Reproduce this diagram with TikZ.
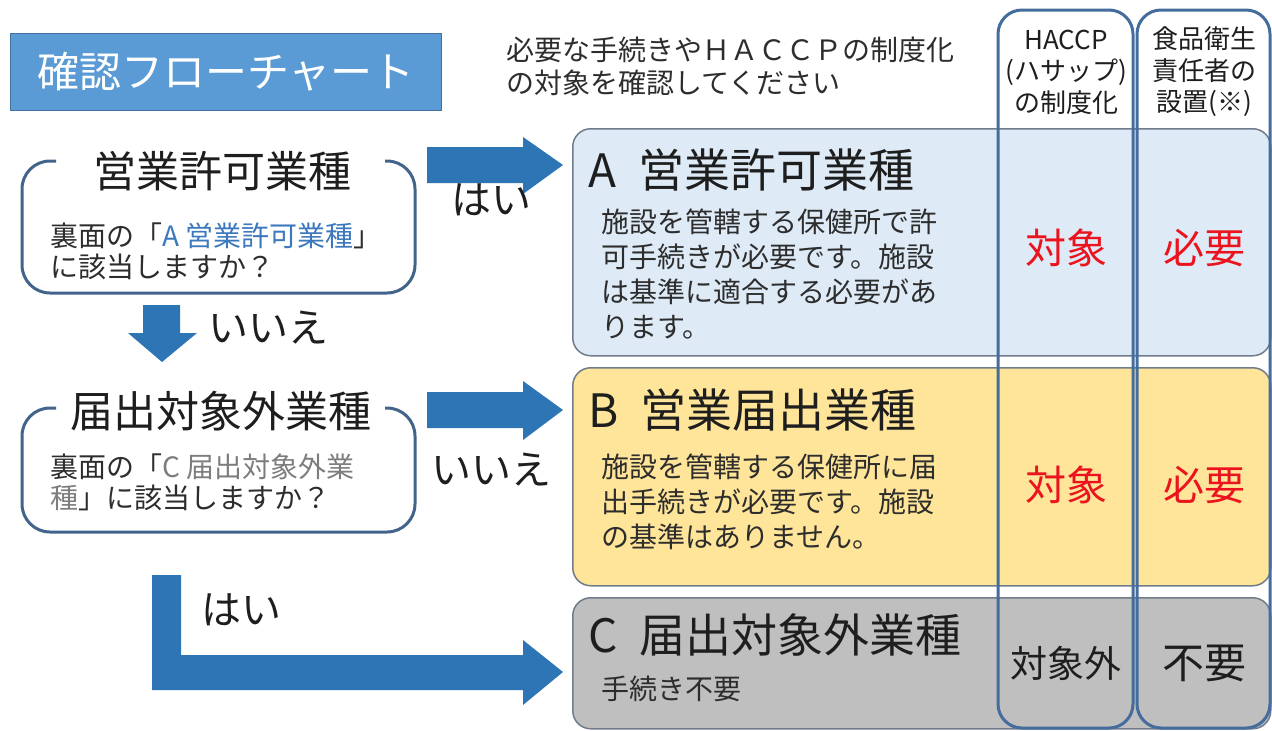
\documentclass[tikz,border=0pt]{standalone}
\usepackage{fontspec}
\setmainfont{Noto Sans CJK JP}
\definecolor{arrowblue}{RGB}{46,117,182}
\definecolor{titleblue}{RGB}{91,155,213}
\definecolor{titleedge}{RGB}{65,113,156}
\definecolor{qedge}{RGB}{66,100,138}
\definecolor{coledge}{RGB}{68,108,156}
\definecolor{rowedge}{RGB}{112,124,140}
\definecolor{rowA}{RGB}{222,235,247}
\definecolor{rowB}{RGB}{255,229,153}
\definecolor{rowC}{RGB}{191,191,191}
\definecolor{txt}{RGB}{30,30,30}
\definecolor{bodytxt}{RGB}{45,45,45}
\definecolor{hlblue}{RGB}{60,120,188}
\definecolor{hlgrey}{RGB}{125,125,125}
\definecolor{needred}{RGB}{235,20,30}
\tikzset{
  qframe/.style={draw=qedge, line width=3pt, rounded corners=28pt},
  rowbox/.style={draw=rowedge, line width=1.5pt, rounded corners=18pt, anchor=north west, inner sep=0pt},
  colbox/.style={draw=coledge, line width=3pt, rounded corners=24pt},
  blockarrow/.style={fill=arrowblue},
  heading/.style={inner sep=0pt, text=txt, font=\fontsize{43}{48}\selectfont},
  rowhead/.style={inner sep=0pt, anchor=west, text=txt, font=\fontsize{46}{50}\selectfont},
  body/.style={inner sep=0pt, anchor=north west, align=left, text=bodytxt, font=\fontsize{28}{35}\selectfont},
  qbody/.style={inner sep=0pt, anchor=north west, align=left, text=bodytxt, font=\fontsize{28}{30.5}\selectfont},
  answer/.style={inner sep=0pt, text=txt, font=\fontsize{40}{44}\selectfont},
  hdr/.style={inner sep=0pt, align=center, text=txt, font=\fontsize{26}{31.5}\selectfont},
  val/.style={inner sep=0pt, font=\fontsize{41}{44}\selectfont},
}
\begin{document}
\begin{tikzpicture}[x=1pt,y=-1pt]
\useasboundingbox (0,0) rectangle (1272,731);
\fill[white] (0,0) rectangle (1272,731);

% title
\node[fill=titleblue, draw=titleedge, line width=1pt, minimum width=431pt, minimum height=77pt, anchor=north west, inner sep=0pt,
      text=white, font=\fontsize{42}{44}\selectfont] (title) at (10,33) {確認フローチャート};

% instruction
\node[inner sep=0pt, anchor=north west, align=left, text=bodytxt, font=\fontsize{28}{33}\selectfont] (instr) at (506,37)
  {必要な手続きやＨＡＣＣＰの制度化\\の対象を確認してください};

% result rows
\node[rowbox, fill=rowA, minimum width=698pt, minimum height=227pt] (A) at (572,128) {};
\node[rowbox, fill=rowB, minimum width=698pt, minimum height=218pt] (B) at (572,367) {};
\node[rowbox, fill=rowC, minimum width=698pt, minimum height=131pt] (C) at (572,597) {};

% columns
\draw[colbox] (998,10) rectangle (1133,728);
\draw[colbox] (1137,10) rectangle (1270,728);

\node[hdr] (h1) at (1066,72) {HACCP\\(ハサップ)\\の制度化};
\node[hdr] (h2) at (1204,72) {食品衛生\\責任者の\\設置(※)};

% row texts
\node[rowhead] (Ah) at (588,170) {A\hspace{22pt}営業許可業種};
\node[body] (Ab) at (601,209) {施設を管轄する保健所で許\\可手続きが必要です。施設\\は基準に適合する必要があ\\ります。};
\node[rowhead] (Bh) at (588,410) {B\hspace{22pt}営業届出業種};
\node[body] (Bb) at (601,454) {施設を管轄する保健所に届\\出手続きが必要です。施設\\の基準はありません。};
\node[rowhead] (Ch) at (588,635) {C\hspace{22pt}届出対象外業種};
\node[body] (Cb) at (601,676) {手続き不要};

% values
\node[val, text=needred] (Av1) at (1066,248) {対象};
\node[val, text=needred] (Av2) at (1204,248) {必要};
\node[val, text=needred] (Bv1) at (1066,485) {対象};
\node[val, text=needred] (Bv2) at (1204,485) {必要};
\node[val, text=txt, font=\fontsize{37}{40}\selectfont] (Cv1) at (1066,663) {対象外};
\node[val, text=txt, font=\fontsize{42}{44}\selectfont] (Cv2) at (1204,663) {不要};

% question boxes
\draw[qframe] (56,161) -- (22,161) -- (22,293) -- (415,293) -- (415,161) -- (385,161);
\node[heading] (q1h) at (222,171) {営業許可業種};
\node[qbody] (q1b) at (50,223) {裏面の「\textcolor{hlblue}{A 営業許可業種}」\\に該当しますか？};

\draw[qframe] (56,408) -- (22,408) -- (22,532) -- (415,532) -- (415,408) -- (385,408);
\node[heading] (q2h) at (221,411) {届出対象外業種};
\node[qbody] (q2b) at (50,454) {裏面の「\textcolor{hlgrey}{C 届出対象外業}\\\textcolor{hlgrey}{種}」に該当しますか？};

% arrows
\fill[blockarrow] (427,147) -- (523,147) -- (523,137) -- (563,165) -- (523,194) -- (523,183) -- (427,183) -- cycle;
\fill[blockarrow] (427,392) -- (523,392) -- (523,381) -- (563,410) -- (523,440) -- (523,428) -- (427,428) -- cycle;
\fill[blockarrow] (143,305) -- (180,305) -- (180,333) -- (197,333) -- (162,362) -- (128,333) -- (143,333) -- cycle;
\fill[blockarrow] (152,575) -- (181,575) -- (181,655) -- (523,655) -- (523,640) -- (563,672) -- (523,705) -- (523,690) -- (152,690) -- cycle;

% arrow labels
\node[answer] (yes1) at (491,200) {はい};
\node[answer] (no1) at (268,328) {いいえ};
\node[answer] (no2) at (491,470) {いいえ};
\node[answer] (yes2) at (241,610) {はい};
\end{tikzpicture}
\end{document}
